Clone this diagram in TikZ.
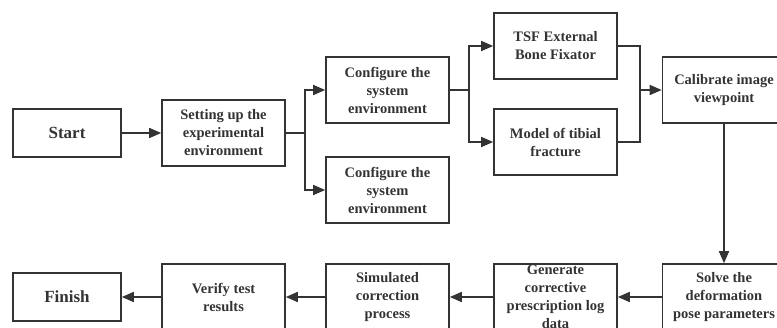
\documentclass[tikz,border=0pt]{standalone}
\usepackage{fontspec}
\setmainfont{Liberation Serif}
\usetikzlibrary{arrows.meta}
\definecolor{ink}{HTML}{333333}
\begin{document}
\begin{tikzpicture}[x=1pt,y=-1pt,
  box/.style={draw=ink, line width=1.6pt, minimum width=123pt, minimum height=66pt,
    inner sep=0pt, align=center, text=ink, font=\bfseries\fontsize{14.5}{18}\selectfont},
  endbox/.style={box, minimum width=108pt, minimum height=48pt, font=\bfseries\fontsize{17}{20}\selectfont},
  conn/.style={draw=ink, line width=1.6pt},
  arr/.style={conn, -{Triangle[length=12pt,width=10pt]}}]
\useasboundingbox (0,0) rectangle (777,327);
\clip (0,0) rectangle (777,327);
\node[endbox] (start) at (67,133) {Start};
\node[box] (setup) at (223.5,133) {Setting up the\\experimental\\environment};
\node[box] (conf1) at (387.5,90) {Configure the\\system\\environment};
\node[box] (conf2) at (387.5,190) {Configure the\\system\\environment};
\node[box] (tsf) at (555.5,46) {TSF External\\Bone Fixator};
\node[box] (model) at (555.5,142) {Model of tibial\\fracture};
\node[box] (calib) at (724,90) {Calibrate image\\viewpoint};
\node[box] (solve) at (724,297) {Solve the\\deformation\\pose parameters};
\node[box] (gen) at (555.5,297) {Generate\\corrective\\prescription log\\data};
\node[box] (sim) at (387.5,297) {Simulated\\correction\\process};
\node[box] (verify) at (223.5,297) {Verify test\\results};
\node[endbox] (finish) at (67,297) {Finish};
\coordinate (b1) at (305,133);
\coordinate (b2) at (469,90);
\coordinate (m) at (640,90);
\draw[arr] (start) -- (setup);
\draw[conn] (setup.east) -- (b1);
\draw[arr] (b1) |- (conf1.west);
\draw[arr] (b1) |- (conf2.west);
\draw[conn] (conf1.east) -- (b2);
\draw[arr] (b2) |- (tsf.west);
\draw[arr] (b2) |- (model.west);
\draw[conn] (tsf.east) -| (m);
\draw[conn] (model.east) -| (m);
\draw[arr] (m) -- (calib.west);
\draw[arr] (calib.south) -- (solve.north);
\draw[arr] (solve) -- (gen);
\draw[arr] (gen) -- (sim);
\draw[arr] (sim) -- (verify);
\draw[arr] (verify) -- (finish);
\end{tikzpicture}
\end{document}
